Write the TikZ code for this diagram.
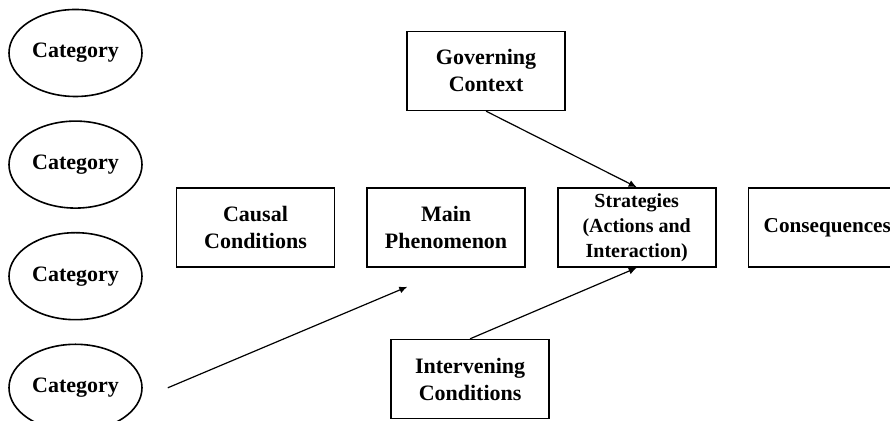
\documentclass[tikz,border=0pt]{standalone}
\usepackage{fontspec}
\setmainfont{Liberation Serif}
\usetikzlibrary{positioning,shapes.geometric,arrows.meta}
\tikzset{
	cat/.style = {ellipse, draw, line width=0.8pt, minimum width=66.5pt,
	 minimum height=43.5pt, inner sep=0pt, font=\fontsize{11}{13.5}\selectfont\bfseries}}
\tikzset{
	block/.style = {rectangle, draw, line width=0.8pt, minimum width=79pt,
	 minimum height=39.5pt, align=center, font=\fontsize{11}{13.5}\selectfont\bfseries},
	link/.style = {line width=0.6pt, -{Latex[length=4pt,width=3.5pt]}}}

\begin{document}
\begin{tikzpicture}[x=0.5pt, y=-0.5pt, node distance=15.5pt]
\useasboundingbox (0,0) rectangle (890,421);

% NODES
% categories
\node (cat1) [cat] at (75.5,53) {Category};
\node (cat2) [cat, below=11.5pt of cat1] {Category};
\node (cat3) [cat, below=11.5pt of cat2] {Category};
\node (cat4) [cat, below=11.5pt of cat3] {Category};
% paradigm row
\node (causal) [block] at (255.5,227.5) {Causal\\Conditions};
\node (main) [block, right=of causal] {Main\\Phenomenon};
\node (strat) [block, right=of main, inner sep=1pt, font=\fontsize{10}{12.5}\selectfont\bfseries] {Strategies\\(Actions and\\Interaction)};
\node (cons) [block, right=of strat, font=\fontsize{10.6}{13}\selectfont\bfseries] {Consequences};
% context, intervening
\node (gov) [block, above=38pt of main, xshift=20pt] {Governing\\Context};
\node (inter) [block, below=35.5pt of main, xshift=12pt] {Intervening\\Conditions};
\coordinate (catout) at ([xshift=12.5pt]cat4.east);
\coordinate (phin) at ([xshift=20.5pt, yshift=-9.5pt]main.south west);

%CONNECTIONS
\draw [link] (catout) -- (phin);
\draw [link] (gov.south) -- (strat.north);
\draw [link] (inter.north) -- (strat.south);

\end{tikzpicture}
\end{document}
